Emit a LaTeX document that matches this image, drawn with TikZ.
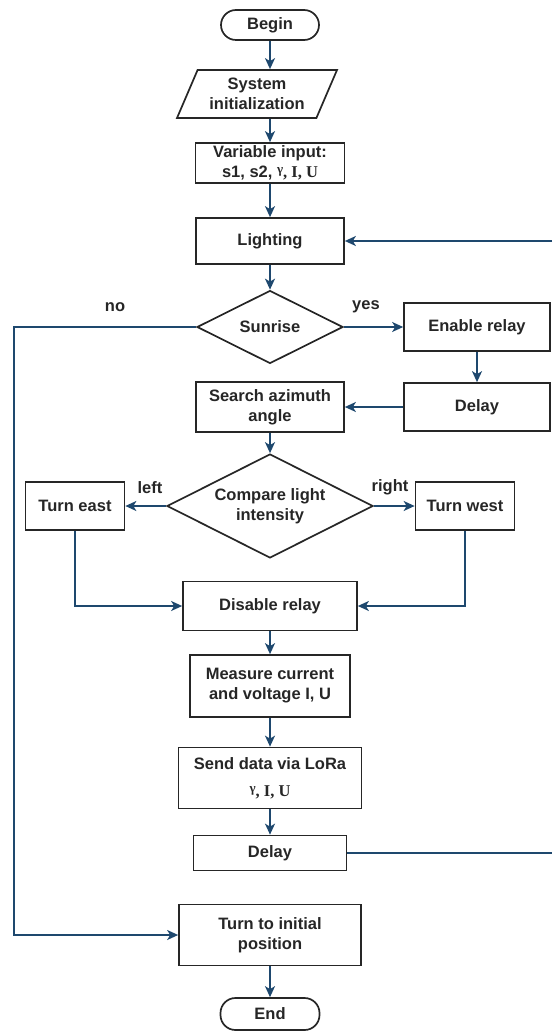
\documentclass[tikz,border=0pt]{standalone}
\usepackage{fontspec}
\setmainfont{Liberation Sans}
\newfontfamily\timesfont{Liberation Serif}
\usetikzlibrary{shapes.geometric,arrows.meta}
\definecolor{linkblue}{RGB}{30,72,110}
\newcommand{\gammasym}{\raisebox{4pt}{\fontsize{13}{13}\selectfont γ}}

\begin{document}
\begin{tikzpicture}[x=1pt,y=-1pt,
        every node/.style={font=\fontsize{16.5}{20}\selectfont\bfseries, text=black!85},
        box/.style={draw=black!85, line width=1.7pt, inner sep=2pt, align=center},
        terminal/.style={box, rounded corners=15pt},
        io/.style={box, trapezium, trapezium left angle=60, trapezium right angle=120, trapezium stretches body},
        decision/.style={box, diamond, aspect=2, inner sep=0pt},
        lbl/.style={inner sep=0pt},
        flow/.style={draw=linkblue, line width=1.6pt, -{Stealth[length=11pt,width=10pt,inset=3pt]}},
        link/.style={draw=linkblue, line width=1.6pt}]
        \useasboundingbox (0,0) rectangle (552,1032);

        % main column
        \node[terminal, minimum width=98, minimum height=30] (begin) at (270,25) {Begin};
        \node[io, minimum width=160, minimum height=48] (init) at (257,94) {System\\initialization};
        \node[box, minimum width=149, minimum height=40] (input) at (270,163) {Variable input:\\s1, s2, {\timesfont\gammasym, I, U}};
        \node[box, minimum width=148, minimum height=46] (light) at (270,241) {Lighting};
        \node[decision, minimum width=146, minimum height=73] (sunrise) at (270,327) {Sunrise};
        \node[box, minimum width=146, minimum height=48] (enable) at (477,327) {Enable relay};
        \node[box, minimum width=146, minimum height=48] (waitA) at (477,407) {Delay};
        \node[box, minimum width=148, minimum height=50] (search) at (270,407) {Search azimuth\\angle};
        \node[decision, minimum width=206, minimum height=104] (compare) at (270,506) {Compare light\\intensity};
        \node[box, minimum width=99, minimum height=48] (east) at (75,506) {Turn east};
        \node[box, minimum width=99, minimum height=48] (west) at (465,506) {Turn west};
        \node[box, minimum width=174, minimum height=49] (disable) at (270,606) {Disable relay};
        \node[box, minimum width=160, minimum height=62] (measure) at (270,686) {Measure current\\and voltage I, U};
        \node[box, minimum width=183, minimum height=61] (send) at (270,778) {Send data via LoRa\\[7pt]{\timesfont\gammasym, I, U}};
        \node[box, minimum width=153, minimum height=35] (waitB) at (270,853) {Delay};
        \node[box, minimum width=182, minimum height=61] (home) at (270,935) {Turn to initial\\position};
        \node[terminal, minimum width=99, minimum height=32] (finish) at (270,1014) {End};

        % branch labels
        \node[lbl] (no) at (115,307) {no};
        \node[lbl] (yes) at (366,307) {yes};
        \node[lbl] (left) at (150,488) {left};
        \node[lbl] (right) at (390,487) {right};

        \coordinate (noc) at (14,327);
        \coordinate (loopB) at (552,853);
        \coordinate (loopA) at (552,241);

        \draw[flow] (begin) -- (begin |- init.north);
        \draw[flow] (begin |- init.south) -- (input);
        \draw[flow] (input) -- (light);
        \draw[flow] (light) -- (sunrise);
        \draw[flow] (sunrise) -- (enable);
        \draw[flow] (enable) -- (waitA);
        \draw[flow] (waitA) -- (search);
        \draw[flow] (search) -- (compare);
        \draw[flow] (compare) -- (east);
        \draw[flow] (compare) -- (west);
        \draw[flow] (east.south) |- (disable.west);
        \draw[flow] (west.south) |- (disable.east);
        \draw[flow] (disable) -- (measure);
        \draw[flow] (measure) -- (send);
        \draw[flow] (send) -- (waitB);
        \draw[flow] (home) -- (finish);

        % loops
        \draw[link] (waitB) -- (loopB);
        \draw[flow] (loopA) -- (light);
        \draw[flow] (sunrise) -- (noc) |- (home.west);
\end{tikzpicture}
\end{document}
